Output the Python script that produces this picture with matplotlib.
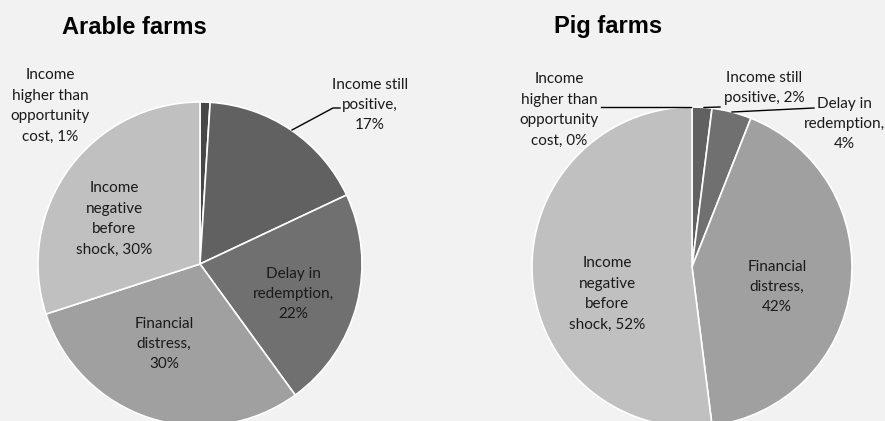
import matplotlib
matplotlib.use("Agg")
import matplotlib.pyplot as plt

categories = ["Income higher than opportunity cost", "Income still positive",
              "Delay in redemption", "Financial distress", "Income negative before shock"]
arable_values = [1, 17, 22, 30, 30]
pig_values = [0, 2, 4, 42, 52]
arable_labels = ["Income\nhigher than\nopportunity\ncost, 1%", "Income still\npositive,\n17%",
                 "Delay in\nredemption,\n22%", "Financial\ndistress,\n30%",
                 "Income\nnegative\nbefore\nshock, 30%"]
pig_labels = ["Income\nhigher than\nopportunity\ncost, 0%", "Income still\npositive, 2%",
              "Delay in\nredemption,\n4%", "Financial\ndistress,\n42%",
              "Income\nnegative\nbefore\nshock, 52%"]
colors = ["#474747", "#616161", "#707070", "#a0a0a0", "#c0c0c0"]

W, H = 885, 421
fig = plt.figure(figsize=(W / 100, H / 100), dpi=100, facecolor="#f2f2f2")
ax = fig.add_axes([0, 0, 1, 1])
ax.set_xlim(0, W)
ax.set_ylim(0, H)
ax.set_aspect("equal")
ax.axis("off")

def py(y):
    return H - y

wp = dict(edgecolor="white", linewidth=1.2)
ax.pie(arable_values, colors=colors, startangle=90, counterclock=False,
       center=(200, py(264)), radius=162, wedgeprops=wp, frame=True)
ax.pie(pig_values, colors=colors, startangle=90, counterclock=False,
       center=(692, py(267)), radius=160, wedgeprops=wp, frame=True)
ax.set_xlim(0, W)
ax.set_ylim(0, H)
ax.axis("off")

fam = ["Lato", "DejaVu Sans"]
fs = 11
ls = 1.58
tk = dict(family=fam, fontsize=fs, ha="center", va="center", linespacing=ls, color="#1a1a1a")

# Arable labels
ax.text(50, py(106), arable_labels[0], **tk)
ax.text(370, py(105), arable_labels[1], **tk)
ax.text(293, py(294), arable_labels[2], **tk)
ax.text(164, py(344), arable_labels[3], **tk)
ax.text(114, py(219), arable_labels[4], **tk)
ax.plot([292, 333, 340], [py(130), py(108), py(108)], color="black", lw=1)

# Pig labels
ax.text(559, py(110), pig_labels[0], **tk)
ax.text(764, py(88), pig_labels[1], **tk)
ax.text(844, py(124), pig_labels[2], **tk)
ax.text(777, py(287), pig_labels[3], **tk)
ax.text(607, py(294), pig_labels[4], **tk)
ax.plot([601, 691], [py(107), py(107)], color="black", lw=1)
ax.plot([704, 720], [py(107.5), py(107)], color="black", lw=1)
ax.plot([732, 814], [py(112), py(108)], color="black", lw=1)

tt = dict(family=["Liberation Sans", "DejaVu Sans"], fontsize=17, fontweight="bold",
          ha="center", va="center", color="black")
ax.text(134, py(27), "Arable farms", **tt)
ax.text(608, py(27), "Pig farms", **tt)

fig.savefig("out.png", dpi=100, facecolor=fig.get_facecolor())
